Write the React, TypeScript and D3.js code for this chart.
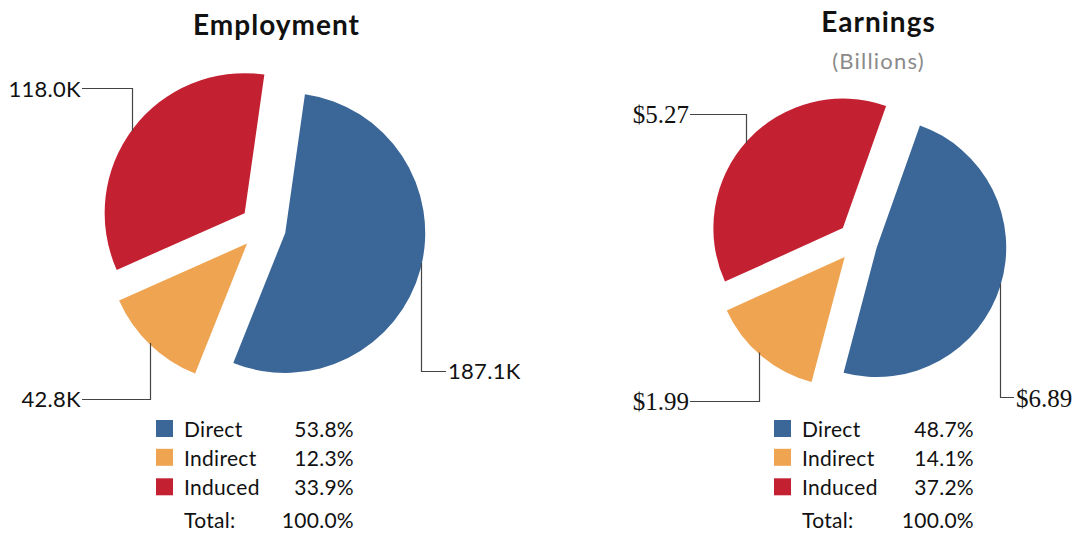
import React from "react";
import * as d3 from "d3";

const categories = ["Direct", "Indirect", "Induced"];
const colors = ["#3A6698", "#EFA452", "#C32032"];

const employmentPct = [53.8, 12.3, 33.9];
const employmentLabels = ["187.1K", "42.8K", "118.0K"];

const earningsPct = [48.7, 14.1, 37.2];
const earningsLabels = ["$6.89", "$1.99", "$5.27"];

const totalLabel = "Total:";
const totalPct = "100.0%";

const FONT = "Lato, 'Open Sans', sans-serif";

type LabelCfg = { lineX: number; lineY: number; side: "left" | "right"; textX: number; baseline: number };

type PieCfg = {
  title: string;
  subtitle?: string;
  titleX: number;
  titleY: number;
  cx: number;
  cy: number;
  r: number;
  explode: number;
  startDeg: number;
  values: number[];
  labels: string[];
  labelFont: string;
  labelSize: number;
  labelSpacing: number;
  labelCfg: LabelCfg[];
  legendX: number;
  legendRight: number;
};

const pies: PieCfg[] = [
  {
    title: "Employment",
    titleX: 276.5,
    titleY: 35,
    cx: 263,
    cy: 227,
    r: 140,
    explode: 23,
    startDeg: 8.1,
    values: employmentPct,
    labels: employmentLabels,
    labelFont: FONT,
    labelSize: 22,
    labelSpacing: 0.3,
    labelCfg: [
      { lineX: 421.5, lineY: 371.5, side: "right", textX: 448, baseline: 378.5 },
      { lineX: 150.5, lineY: 399.5, side: "left", textX: 81, baseline: 406.5 },
      { lineX: 132.5, lineY: 88.5, side: "left", textX: 81, baseline: 96.5 },
    ],
    legendX: 156,
    legendRight: 354,
  },
  {
    title: "Earnings",
    subtitle: "(Billions)",
    titleX: 878.5,
    titleY: 32,
    cx: 857.6,
    cy: 241.6,
    r: 129.5,
    explode: 20,
    startDeg: 19.5,
    values: earningsPct,
    labels: earningsLabels,
    labelFont: "'Liberation Serif', 'DejaVu Serif', serif",
    labelSize: 25,
    labelSpacing: 0,
    labelCfg: [
      { lineX: 1000.5, lineY: 397.5, side: "right", textX: 1016, baseline: 406.5 },
      { lineX: 759.5, lineY: 401.5, side: "left", textX: 689, baseline: 410 },
      { lineX: 746.5, lineY: 114.5, side: "left", textX: 689, baseline: 123 },
    ],
    legendX: 774,
    legendRight: 974,
  },
];

const legendBaselines = [436.7, 465.5, 495];
const totalBaseline = 528.3;
const LEGEND_SIZE = 21;

function PieChart({ cfg }: { cfg: PieCfg }) {
  const start = (cfg.startDeg * Math.PI) / 180;
  const pie = d3
    .pie<number>()
    .sort(null)
    .value((d) => d)
    .startAngle(start)
    .endAngle(start + 2 * Math.PI);
  const arcs = pie(cfg.values);
  const arc = d3.arc<d3.PieArcDatum<number>>().innerRadius(0).outerRadius(cfg.r);

  return (
    <g>
      <text
        x={cfg.titleX}
        y={cfg.titleY}
        textAnchor="middle"
        fontFamily={FONT}
        fontWeight="bold"
        fontSize={28}
        letterSpacing={1}
        fill="#111"
      >
        {cfg.title}
      </text>
      {cfg.subtitle && (
        <text
          x={cfg.titleX}
          y={69}
          textAnchor="middle"
          fontFamily={FONT}
          fontSize={22}
          letterSpacing={1.2}
          fill="#8a8a8a"
        >
          {cfg.subtitle}
        </text>
      )}
      {arcs.map((a, i) => {
        const mid = (a.startAngle + a.endAngle) / 2;
        const ox = cfg.cx + cfg.explode * Math.sin(mid);
        const oy = cfg.cy - cfg.explode * Math.cos(mid);
        return (
          <path key={i} d={arc(a) || ""} transform={`translate(${ox},${oy})`} fill={colors[i]} />
        );
      })}
      {arcs.map((a, i) => {
        const lc = cfg.labelCfg[i];
        const mid = (a.startAngle + a.endAngle) / 2;
        const ox = cfg.cx + cfg.explode * Math.sin(mid);
        const oy = cfg.cy - cfg.explode * Math.cos(mid);
        const dx = lc.lineX - ox;
        const h = Math.sqrt(Math.max(0, cfg.r * cfg.r - dx * dx));
        const startY = lc.lineY < oy ? oy - h + 2 : oy + h - 2;
        const endX = lc.side === "left" ? lc.textX + 1 : lc.textX - 2;
        return (
          <g key={"l" + i}>
            <path
              d={`M${lc.lineX},${startY}V${lc.lineY}H${endX}`}
              fill="none"
              stroke="#444"
              strokeWidth={1.2}
            />
            <text
              x={lc.textX}
              y={lc.baseline}
              textAnchor={lc.side === "left" ? "end" : "start"}
              fontFamily={cfg.labelFont}
              fontSize={cfg.labelSize}
              letterSpacing={cfg.labelSpacing}
              fill="#111"
            >
              {cfg.labels[i]}
            </text>
          </g>
        );
      })}
      {categories.map((c, i) => (
        <g key={"g" + i}>
          <rect x={cfg.legendX} y={legendBaselines[i] - 16.7} width={17} height={17} fill={colors[i]} />
          <text
            x={cfg.legendX + 28}
            y={legendBaselines[i]}
            fontFamily={FONT}
            fontSize={LEGEND_SIZE}
            letterSpacing={0.3}
            fill="#111"
          >
            {c}
          </text>
          <text
            x={cfg.legendRight}
            y={legendBaselines[i]}
            textAnchor="end"
            fontFamily={FONT}
            fontSize={LEGEND_SIZE}
            letterSpacing={0.3}
            fill="#111"
          >
            {cfg.values[i].toFixed(1) + "%"}
          </text>
        </g>
      ))}
      <text
        x={cfg.legendX + 28}
        y={totalBaseline}
        fontFamily={FONT}
        fontSize={LEGEND_SIZE}
        letterSpacing={0.3}
        fill="#111"
      >
        {totalLabel}
      </text>
      <text
        x={cfg.legendRight}
        y={totalBaseline}
        textAnchor="end"
        fontFamily={FONT}
        fontSize={LEGEND_SIZE}
        letterSpacing={0.3}
        fill="#111"
      >
        {totalPct}
      </text>
    </g>
  );
}

export default function App() {
  return (
    <svg
      width={1077}
      height={533}
      style={{ position: "absolute", left: 0, top: 0, background: "#fff" }}
    >
      <rect width={1077} height={533} fill="#fff" />
      {pies.map((p, i) => (
        <PieChart key={i} cfg={p} />
      ))}
    </svg>
  );
}
